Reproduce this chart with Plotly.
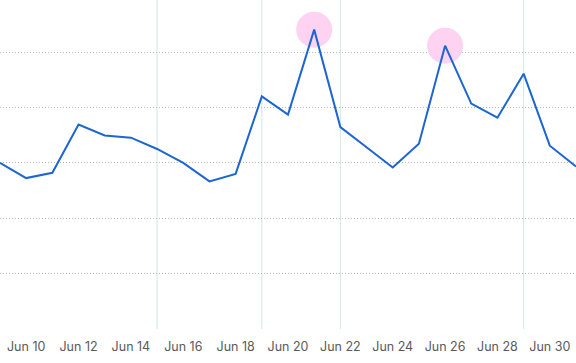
import plotly.graph_objects as go
import pandas as pd

dates = pd.date_range("2025-06-09", "2025-07-01", freq="D").strftime("%Y-%m-%d").tolist()
values = [60.0, 54.5, 56.4, 73.8, 69.9, 69.1, 65.0, 60.0, 53.3, 56.0, 84.0, 77.4,
          108.1, 72.9, 65.6, 58.3, 66.9, 102.3, 81.4, 76.3, 92.2, 66.2, 58.7]
highlight_dates = ["2025-06-21", "2025-06-26"]
vline_dates = ["2025-06-15", "2025-06-19", "2025-06-22", "2025-06-29"]

hl_values = [values[dates.index(d)] for d in highlight_dates]

fig = go.Figure()
fig.add_trace(go.Scatter(
    x=highlight_dates, y=hl_values, mode="markers",
    marker=dict(size=36, color="#fdd3f1", line=dict(width=0)),
    hoverinfo="skip", showlegend=False,
))
fig.add_trace(go.Scatter(
    x=dates, y=values, mode="lines",
    line=dict(color="#1c66d1", width=2),
    showlegend=False,
))

for d in vline_dates:
    fig.add_shape(type="line", xref="x", yref="paper", x0=d, x1=d, y0=0, y1=1,
                  line=dict(color="#d3e6e6", width=1), layer="below")

fig.update_layout(
    width=576, height=363,
    margin=dict(l=0, r=0, t=0, b=34),
    paper_bgcolor="white", plot_bgcolor="white",
    font=dict(family="Inter, Noto Sans, sans-serif", size=12.5, color="#5a5a5a"),
    xaxis=dict(
        range=["2025-06-09", "2025-07-01"],
        tick0="2025-06-10", dtick=2 * 86400000, tickformat="%b %-d",
        showgrid=False, showline=False, zeroline=False,
        ticks="outside", ticklen=6, tickcolor="rgba(0,0,0,0)",
        tickfont=dict(size=12.5, color="#5a5a5a"),
    ),
    yaxis=dict(
        range=[0, 118.8], tick0=0, dtick=20,
        showgrid=True, gridcolor="#b8b8b8", griddash="1px,2px", gridwidth=1,
        showticklabels=False, zeroline=False, showline=False, ticks="",
    ),
)

fig.write_html("out.html", config={"displayModeBar": False},
               post_script="document.body.style.margin='0';document.body.style.padding='0';")
